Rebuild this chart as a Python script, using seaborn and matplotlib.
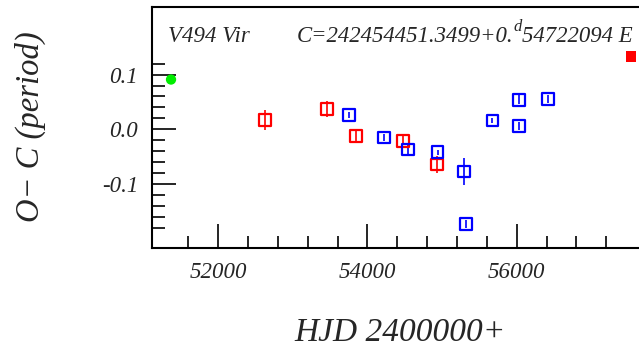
import matplotlib
matplotlib.use("Agg")
import matplotlib.pyplot as plt
import seaborn as sns
import pandas as pd
from matplotlib.ticker import FixedLocator

sns.set_style("white")
plt.rcParams['font.family'] = ['Liberation Serif', 'DejaVu Serif']

# Red open squares
red_x = [52626, 53461, 53842, 54480, 54936]
red_y = [0.017, 0.037, -0.012, -0.021, -0.064]
red_err = [0.019, 0.015, 0.011, 0.008, 0.016]

# Blue open squares
blue_x = [53752, 54225, 54547, 54941, 55298, 55321, 55674, 56030, 56030, 56423]
blue_y = [0.026, -0.015, -0.037, -0.042, -0.077, -0.173, 0.016, 0.006, 0.054, 0.055]
blue_err = [0.005, 0.007, 0.009, 0.005, 0.024, 0.008, 0.005, 0.008, 0.008, 0.007]

# Green dot
green_x = [51366]
green_y = [0.091]

# Red filled square
redf_x = [57532]
redf_y = [0.133]

xticks = [52000, 54000, 56000]
xticklabels = ["52000", "54000", "56000"]
xminor = [51600 + 400 * i for i in range(15)]
yticks = [-0.1, 0.0, 0.1]
yticklabels = ["-0.1", "0.0", "0.1"]
yminor = [-0.18 + 0.02 * i for i in range(16)]

fig = plt.figure(figsize=(6.39, 3.51), dpi=100)
ax = fig.add_axes([152/639, (351-248)/351, 487/639, 241/351])

red_df = pd.DataFrame({"x": red_x, "y": red_y})
blue_df = pd.DataFrame({"x": blue_x, "y": blue_y})

ax.errorbar(red_x, red_y, yerr=red_err, fmt='none', ecolor='#ff0000', elinewidth=1.2, capsize=0, zorder=2)
ax.errorbar(blue_x, blue_y, yerr=blue_err, fmt='none', ecolor='#0000ff', elinewidth=1.2, capsize=0, zorder=2)
sns.scatterplot(data=red_df, x="x", y="y", ax=ax, marker='s', s=70,
                facecolor='none', edgecolor='#ff0000', linewidth=1.6, zorder=3)
sns.scatterplot(data=blue_df, x="x", y="y", ax=ax, marker='s', s=70,
                facecolor='none', edgecolor='#0000ff', linewidth=1.6, zorder=3)
sns.scatterplot(x=green_x, y=green_y, ax=ax, marker='o', s=55, color='#00ee00', edgecolor='none', zorder=3)
sns.scatterplot(x=redf_x, y=redf_y, ax=ax, marker='s', s=60, color='#ff0000', edgecolor='none', zorder=3)

ax.set_xlim(51111, 57640)
ax.set_ylim(-0.217, 0.2236)

ax.set_xticks(xticks)
ax.set_xticklabels(xticklabels, fontstyle='italic', fontsize=16.5)
ax.set_yticks(yticks)
ax.set_yticklabels(yticklabels, fontstyle='italic', fontsize=16.5)
ax.xaxis.set_minor_locator(FixedLocator(xminor))
ax.yaxis.set_minor_locator(FixedLocator(yminor))
ax.tick_params(which='major', direction='in', length=17, width=1.2, pad=10,
               bottom=True, left=True, top=False, right=False, color='black')
ax.tick_params(which='minor', direction='in', length=9, width=1.2,
               bottom=True, left=True, top=False, right=False, color='black')

for s in ['left', 'bottom', 'top']:
    ax.spines[s].set_visible(True)
    ax.spines[s].set_color('black')
    ax.spines[s].set_linewidth(1.5)
ax.spines['right'].set_visible(False)

ax.set_xlabel("")
ax.set_ylabel("")
fig.text(400/639, 1 - 333/351, "HJD 2400000+", fontsize=24, fontstyle='italic',
         ha='center', va='center')
fig.text(30/639, 1 - 127/351, "O\u2212 C (period)", fontsize=23.5, fontstyle='italic',
         ha='center', va='center', rotation=90)

fig.text(168/639, 1 - 42/351, "V494 Vir", fontsize=16.5,
         fontstyle='italic', ha='left', va='baseline')

# Ephemeris text composed of pieces (superscript d)
fig.canvas.draw()
renderer = fig.canvas.get_renderer()
base_y = 1 - 42/351
t1 = fig.text(297/639, base_y, "C=242454451.3499+0.", fontsize=16.4,
              fontstyle='italic', ha='left', va='baseline')
x1 = t1.get_window_extent(renderer).x1
t2 = fig.text(x1/639, base_y + 11/351, "d", fontsize=12,
              fontstyle='italic', ha='left', va='baseline')
x2 = t2.get_window_extent(renderer).x1
fig.text(x2/639, base_y, "54722094 E", fontsize=16.4,
         fontstyle='italic', ha='left', va='baseline')

fig.savefig("out.png", dpi=100)
